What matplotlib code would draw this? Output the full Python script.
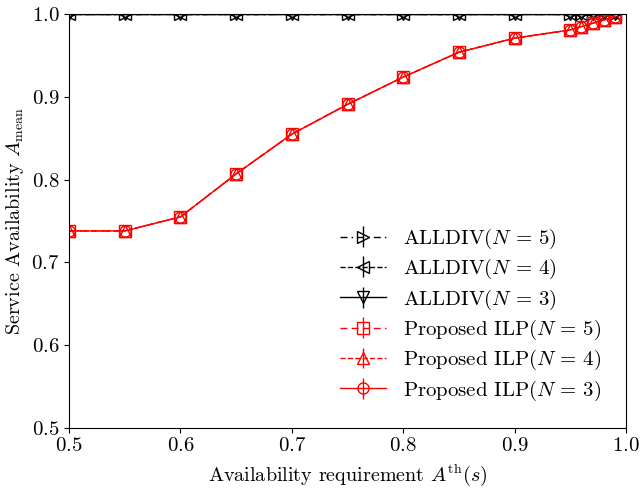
import numpy as np
import matplotlib
matplotlib.use("Agg")
import matplotlib.pyplot as plt

plt.rcParams['font.family'] = 'serif'
plt.rcParams['font.serif'] = ['cmr10']
plt.rcParams['mathtext.fontset'] = 'cm'
plt.rcParams['axes.formatter.use_mathtext'] = True
plt.rcParams['font.size'] = 15

# требование доступности
a_th = [0.5, 0.55, 0.6, 0.65, 0.7, 0.75, 0.8, 0.85, 0.9, 0.95, 0.96, 0.97, 0.98, 0.99]

alldiv_n5 = [0.9999] * len(a_th)
alldiv_n4 = [0.9999] * len(a_th)
alldiv_n3 = [0.9999] * len(a_th)

ilp_n5 = [0.738, 0.738, 0.755, 0.807, 0.855, 0.891, 0.924, 0.954, 0.971, 0.981, 0.985, 0.989, 0.993, 0.997]
ilp_n4 = [0.738, 0.738, 0.755, 0.807, 0.855, 0.891, 0.924, 0.954, 0.971, 0.981, 0.985, 0.989, 0.993, 0.997]
ilp_n3 = [0.738, 0.738, 0.755, 0.807, 0.855, 0.891, 0.924, 0.954, 0.971, 0.981, 0.985, 0.989, 0.993, 0.997]

yerr = [0.0] * len(a_th)

fig = plt.figure(figsize=(6.4, 4.9), dpi=100)
ax = fig.add_axes([0.108, 0.127, 0.870, 0.844])

kw = dict(mfc='none', ms=8, lw=1.0, elinewidth=1.0, capsize=0)
ax.errorbar(a_th, alldiv_n5, yerr=yerr, fmt='>', ls=(0, (5, 3, 1, 3)), color='k', label=r'ALLDIV$(N\,=\,5)$', **kw)
ax.errorbar(a_th, alldiv_n4, yerr=yerr, fmt='<', ls='--', color='k', label=r'ALLDIV$(N\,=\,4)$', **kw)
ax.errorbar(a_th, alldiv_n3, yerr=yerr, fmt='v', ls='-', color='k', label=r'ALLDIV$(N\,=\,3)$', **kw)
ax.errorbar(a_th, ilp_n5, yerr=yerr, fmt='s', ls=(0, (5, 3)), color='r', label=r'Proposed ILP$(N\,=\,5)$', **kw)
ax.errorbar(a_th, ilp_n4, yerr=yerr, fmt='^', ls='--', color='r', label=r'Proposed ILP$(N\,=\,4)$', **kw)
ax.errorbar(a_th, ilp_n3, yerr=yerr, fmt='o', ls='-', color='r', label=r'Proposed ILP$(N\,=\,3)$', **kw)

ax.set_xlim(0.5, 1.0)
ax.set_ylim(0.5, 1.0)
ax.set_xticks([0.5, 0.6, 0.7, 0.8, 0.9, 1.0])
ax.set_yticks([0.5, 0.6, 0.7, 0.8, 0.9, 1.0])
ax.set_xlabel(r'Availability requirement $A^{\mathrm{th}}(s)$', fontsize=14.5, labelpad=5)
ax.set_ylabel(r'Service Availability $A_{\mathrm{mean}}$', fontsize=14.5, labelpad=4)
ax.legend(loc='lower right', frameon=False, handlelength=2.2, labelspacing=0.3,
          borderaxespad=0.8, fontsize=15)

fig.savefig("out.png")
